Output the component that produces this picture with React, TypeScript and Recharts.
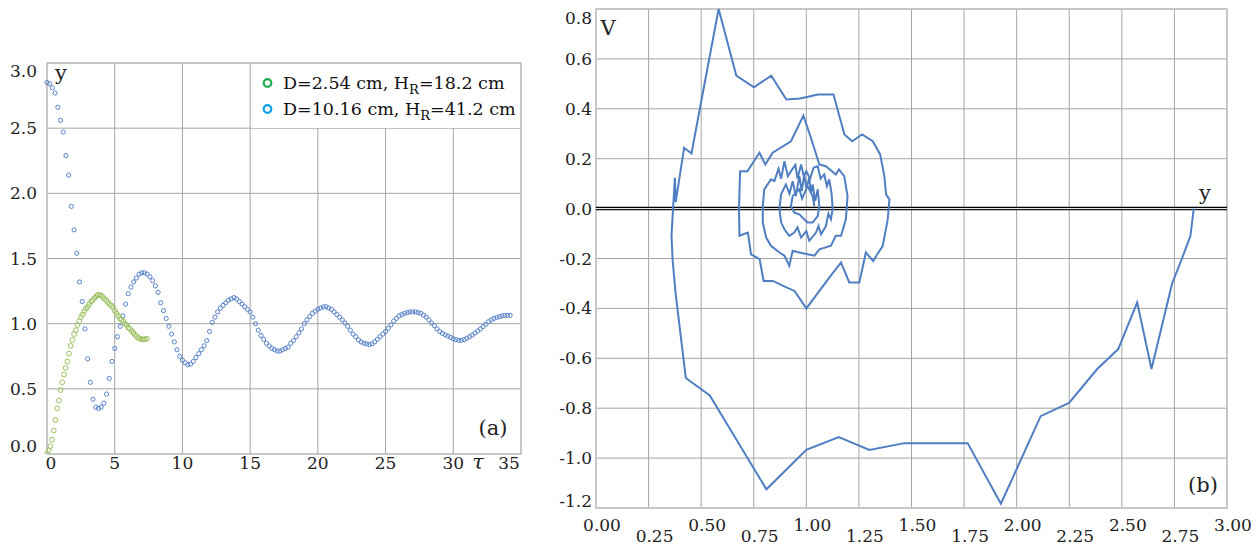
import React from 'react';
import {
  ScatterChart, Scatter, LineChart, Line, XAxis, YAxis, CartesianGrid,
  Legend, ReferenceLine, ReferenceArea,
} from 'recharts';

const FONT = "'DejaVu Serif', 'Liberation Serif', serif";
const INK = '#222';
const GRID = '#a6a6a6';
const FRAME = '#c4c4c4';

// panel (a): step response y(tau)
const TAU_TICKS = [0, 5, 10, 15, 20, 25, 30, 35];
const Y_TICKS_A = [0, 0.5, 1, 1.5, 2, 2.5, 3];

const GREEN_STEP = 0.125;
const greenY = [
  0.0, 0.03, 0.06, 0.11, 0.18, 0.26, 0.35, 0.41, 0.49, 0.55,
  0.61, 0.66, 0.71, 0.77, 0.83, 0.875, 0.92, 0.95, 0.99, 1.02,
  1.05, 1.07, 1.095, 1.115, 1.13, 1.15, 1.17, 1.18, 1.195, 1.21,
  1.22, 1.22, 1.215, 1.205, 1.19, 1.18, 1.165, 1.15, 1.14, 1.125,
  1.1, 1.08, 1.06, 1.04, 1.03, 1.02, 1.0, 0.99, 0.97, 0.96,
  0.945, 0.93, 0.915, 0.9, 0.89, 0.885, 0.88, 0.88, 0.88, 0.885,
];

const BLUE_STEP = 0.2;
const blueY = [
  2.85, 2.84, 2.81, 2.77, 2.66, 2.56, 2.47, 2.29, 2.14, 1.9,
  1.72, 1.54, 1.32, 1.17, 0.96, 0.73, 0.55, 0.42, 0.36, 0.35,
  0.36, 0.39, 0.46, 0.58, 0.71, 0.81, 0.9, 0.98, 1.06, 1.15,
  1.23, 1.28, 1.32, 1.35, 1.38, 1.39, 1.39, 1.38, 1.36, 1.33,
  1.29, 1.24, 1.16, 1.1, 1.04, 0.98, 0.92, 0.86, 0.8, 0.75,
  0.72, 0.7, 0.685, 0.69, 0.71, 0.74, 0.77, 0.8, 0.83, 0.87,
  0.94, 1.01, 1.05, 1.09, 1.12, 1.14, 1.16, 1.18, 1.19, 1.2,
  1.19, 1.17, 1.15, 1.13, 1.11, 1.09, 1.05, 1.0, 0.95, 0.91,
  0.88, 0.85, 0.83, 0.81, 0.8, 0.79, 0.79, 0.8, 0.81, 0.82,
  0.85, 0.87, 0.9, 0.93, 0.96, 1.0, 1.03, 1.055, 1.08, 1.095,
  1.11, 1.12, 1.13, 1.13, 1.12, 1.11, 1.09, 1.07, 1.05, 1.03,
  1.005, 0.98, 0.95, 0.92, 0.9, 0.875, 0.86, 0.85, 0.845, 0.84,
  0.845, 0.86, 0.88, 0.9, 0.92, 0.94, 0.965, 0.99, 1.02, 1.04,
  1.06, 1.07, 1.08, 1.085, 1.09, 1.09, 1.09, 1.085, 1.08, 1.065,
  1.05, 1.03, 1.005, 0.985, 0.96, 0.94, 0.925, 0.915, 0.905, 0.895,
  0.885, 0.877, 0.872, 0.872, 0.878, 0.888, 0.9, 0.913, 0.928, 0.943,
  0.96, 0.978, 0.995, 1.015, 1.028, 1.04, 1.047, 1.054, 1.059, 1.063,
  1.064, 1.064,
];

const LEGEND_ITEMS = [
  { d: '2.54', h: '18.2', color: '#1fae4b' },
  { d: '10.16', h: '41.2', color: '#0ca0e6' },
];

// panel (b): phase trajectory V(y)
const X_TICKS_B = [0, 0.25, 0.5, 0.75, 1, 1.25, 1.5, 1.75, 2, 2.25, 2.5, 2.75, 3];
const Y_TICKS_B = [-1.2, -1, -0.8, -0.6, -0.4, -0.2, 0, 0.2, 0.4, 0.6, 0.8];

const phaseY = [
  2.842, 2.826, 2.786, 2.739, 2.641, 2.573, 2.483, 2.383, 2.249, 2.114,
  1.925, 1.767, 1.466, 1.3, 1.154, 1.0, 0.81, 0.541, 0.427, 0.378,
  0.364, 0.359, 0.367, 0.375, 0.379, 0.419, 0.454, 0.493, 0.583, 0.667,
  0.751, 0.833, 0.905, 0.971, 1.055, 1.129, 1.181, 1.218, 1.265, 1.316,
  1.351, 1.371, 1.379, 1.395, 1.387, 1.363, 1.332, 1.318, 1.283, 1.252,
  1.204, 1.165, 1.11, 1.0, 0.944, 0.905, 0.841, 0.797, 0.778, 0.737,
  0.722, 0.682, 0.68, 0.685, 0.72, 0.777, 0.805, 0.84, 0.927, 0.986,
  1.014, 1.062, 1.093, 1.14, 1.155, 1.18, 1.196, 1.188, 1.165, 1.14,
  1.117, 1.062, 1.038, 1.006, 0.967, 0.935, 0.919, 0.896, 0.872, 0.832,
  0.809, 0.793, 0.793, 0.8, 0.832, 0.848, 0.868, 0.88, 0.896, 0.912,
  0.927, 0.948, 0.958, 0.975, 0.988, 1.0, 1.018, 1.035, 1.054, 1.068,
  1.085, 1.098, 1.109, 1.12, 1.125, 1.117, 1.105, 1.093, 1.07, 1.058,
  1.046, 1.014, 1.0, 0.975, 0.958, 0.943, 0.919, 0.896, 0.88, 0.872,
  0.88, 0.903, 0.92, 0.935, 0.95, 0.967, 0.978, 0.99, 1.0, 1.014,
  1.022, 1.03, 1.042, 1.054, 1.062, 1.054, 1.03, 1.006, 0.99, 0.967,
  0.943, 0.927, 0.935, 0.967, 0.98, 1.006, 1.03, 1.038,
];
const phaseV = [
  0, -0.11, -0.2, -0.3, -0.643, -0.376, -0.563, -0.643, -0.779, -0.832,
  -1.183, -0.94, -0.94, -0.967, -0.916, -0.967, -1.125, -0.749, -0.679, -0.336,
  -0.203, -0.109, 0.01, 0.124, 0.026, 0.244, 0.221, 0.397, 0.8, 0.533,
  0.486, 0.533, 0.437, 0.441, 0.457, 0.457, 0.297, 0.27, 0.297, 0.27,
  0.217, 0.13, 0.057, 0.037, -0.043, -0.15, -0.19, -0.21, -0.176, -0.296,
  -0.296, -0.216, -0.276, -0.4, -0.33, -0.316, -0.29, -0.29, -0.203, -0.183,
  -0.096, -0.109, 0.0, 0.15, 0.15, 0.224, 0.177, 0.224, 0.27, 0.373,
  0.304, 0.177, 0.17, 0.137, 0.157, 0.13, 0.05, -0.043, -0.109, -0.109,
  -0.149, -0.163, -0.189, -0.183, -0.176, -0.169, -0.229, -0.189, -0.176, -0.149,
  -0.116, -0.056, 0.01, 0.077, 0.117, 0.11, 0.16, 0.12, 0.19, 0.13,
  0.15, 0.175, 0.12, 0.177, 0.13, 0.15, 0.12, 0.165, 0.17, 0.12,
  0.137, 0.09, 0.117, 0.06, 0.0, -0.043, -0.02, -0.07, -0.103, -0.07,
  -0.096, -0.129, -0.09, -0.116, -0.075, -0.096, -0.109, -0.083, -0.056, 0.0,
  0.057, 0.097, 0.06, 0.11, 0.05, 0.13, 0.07, 0.137, 0.08, 0.124,
  0.06, 0.097, 0.03, 0.077, 0.01, -0.03, -0.056, -0.056, -0.043, -0.023,
  -0.016, 0.01, 0.05, 0.077, 0.04, 0.09, 0.05, 0.01,
];

const greenData = greenY.map((y, i) => ({ tau: i * GREEN_STEP, y }));
const blueData = blueY.map((y, i) => ({ tau: i * BLUE_STEP, y }));
const phaseData = phaseY.map((y, i) => ({ y, v: phaseV[i] }));

const tickText = {
  fontFamily: FONT,
  fontSize: 17,
  fill: INK,
  dominantBaseline: 'central' as const,
};

const TauTick = ({ x, y, payload }: any) => {
  const v = payload.value;
  const dx = v === 0 ? 4 : v === 35 ? -12 : 0;
  return <text x={x + dx} y={y + 1} textAnchor="middle" {...tickText}>{v}</text>;
};

const YTickA = ({ x, y, payload }: any) => {
  const v = payload.value;
  const dy = v === 3 ? 8 : v === 0 ? -8 : 0;
  return <text x={x - 2} y={y + dy} textAnchor="end" {...tickText}>{v.toFixed(1)}</text>;
};

// x labels of (b) alternate between two rows
const XTickB = ({ x, y, payload, index }: any) => (
  <text x={x + 6} y={y + (index % 2 === 0 ? 9 : 20)} textAnchor="middle" {...tickText}>
    {payload.value.toFixed(2)}
  </text>
);

const YTickB = ({ x, y, payload }: any) => {
  const v = payload.value;
  const dy = v === 0.8 ? 9 : v === -1.2 ? -7 : 0;
  return <text x={x + 4} y={y + dy} textAnchor="end" {...tickText}>{v.toFixed(1)}</text>;
};

const dot = (color: string, r: number) => (p: any) => (
  <circle cx={p.cx} cy={p.cy} r={r} fill="none" stroke={color} strokeWidth={1} />
);

const LegendBox = () => (
  <div style={{ fontFamily: FONT, fontSize: 17.5, color: '#111', paddingTop: 6, background: '#fff', height: 64, boxSizing: 'border-box' }}>
    {LEGEND_ITEMS.map((it) => (
      <div key={it.d} style={{ display: 'flex', alignItems: 'center', height: 26, whiteSpace: 'nowrap' }}>
        <svg width={32} height={26} style={{ flex: 'none' }}>
          <circle cx={16.5} cy={13} r={3.8} fill="none" stroke={it.color} strokeWidth={2.2} />
        </svg>
        <span>
          D={it.d} cm, H<span style={{ fontSize: '0.75em', verticalAlign: '-0.35em', lineHeight: 0 }}>R</span>={it.h} cm
        </span>
      </div>
    ))}
  </div>
);

const Tag = ({ x, y, children, italic }: any) => (
  <span style={{
    position: 'absolute', left: x, top: y, transform: 'translate(-50%, -50%)',
    fontFamily: FONT, fontSize: 21, lineHeight: 1, color: INK,
    fontStyle: italic ? 'italic' : 'normal',
  }}>{children}</span>
);

export default function App() {
  return (
    <div style={{ position: 'absolute', left: 0, top: 0, width: 1260, height: 546, background: '#fff', overflow: 'hidden' }}>
      <div style={{ position: 'absolute', left: 0, top: 0 }}>
        <ScatterChart width={540} height={490} margin={{ top: 63, right: 19, left: 7, bottom: 6 }}>
          <CartesianGrid stroke={GRID} strokeWidth={1} />
          <XAxis type="number" dataKey="tau" domain={[0, 35]} ticks={TAU_TICKS} interval={0}
            height={30} axisLine={false} tickLine={false} tickSize={6} tickMargin={2} tick={<TauTick />} />
          <YAxis type="number" dataKey="y" domain={[0, 3]} ticks={Y_TICKS_A} interval={0} allowDataOverflow
            width={40} axisLine={false} tickLine={false} tickSize={6} tickMargin={2} tick={<YTickA />} />
          <ReferenceArea x1={0} x2={35} y1={0} y2={3} fill="none" stroke={FRAME} strokeWidth={1.5} />
          <Scatter name="D=10.16 cm" data={blueData} isAnimationActive={false} shape={dot('#5a84c8', 2.1)} />
          <Scatter name="D=2.54 cm" data={greenData} isAnimationActive={false} shape={dot('#9bc160', 2.4)} />
          <Legend layout="horizontal" verticalAlign="middle" align="center" width={270} height={64}
            wrapperStyle={{ top: 63.5, left: 251, width: 269, height: 64 }} content={() => <LegendBox />} />
        </ScatterChart>
      </div>

      <div style={{ position: 'absolute', left: 540, top: 0 }}>
        <LineChart width={720} height={546} data={phaseData} margin={{ top: 9, right: 33, left: 16, bottom: 8 }}>
          <CartesianGrid stroke={GRID} strokeWidth={1} />
          <XAxis type="number" dataKey="y" domain={[0, 3]} ticks={X_TICKS_B} interval={0}
            height={30} axisLine={false} tickLine={false} tickSize={6} tickMargin={2} tick={<XTickB />} />
          <YAxis type="number" domain={[-1.2, 0.8]} ticks={Y_TICKS_B} interval={0}
            width={40} axisLine={false} tickLine={false} tickSize={6} tickMargin={2} tick={<YTickB />} />
          <ReferenceArea x1={0} x2={3} y1={-1.2} y2={0.8} fill="none" stroke={FRAME} strokeWidth={1.5} />
          <ReferenceLine y={0} stroke="#000" strokeWidth={3.5} />
          <ReferenceLine y={0} stroke="#fff" strokeWidth={1} />
          <Line type="linear" dataKey="v" stroke="#4f7fc2" strokeWidth={2} dot={false} isAnimationActive={false} />
        </LineChart>
      </div>

      <Tag x={61} y={73}>y</Tag>
      <Tag x={478} y={462} italic>τ</Tag>
      <Tag x={493} y={428}>(a)</Tag>
      <Tag x={608} y={28}>V</Tag>
      <Tag x={1205} y={193}>y</Tag>
      <Tag x={1203} y={485}>(b)</Tag>
    </div>
  );
}
